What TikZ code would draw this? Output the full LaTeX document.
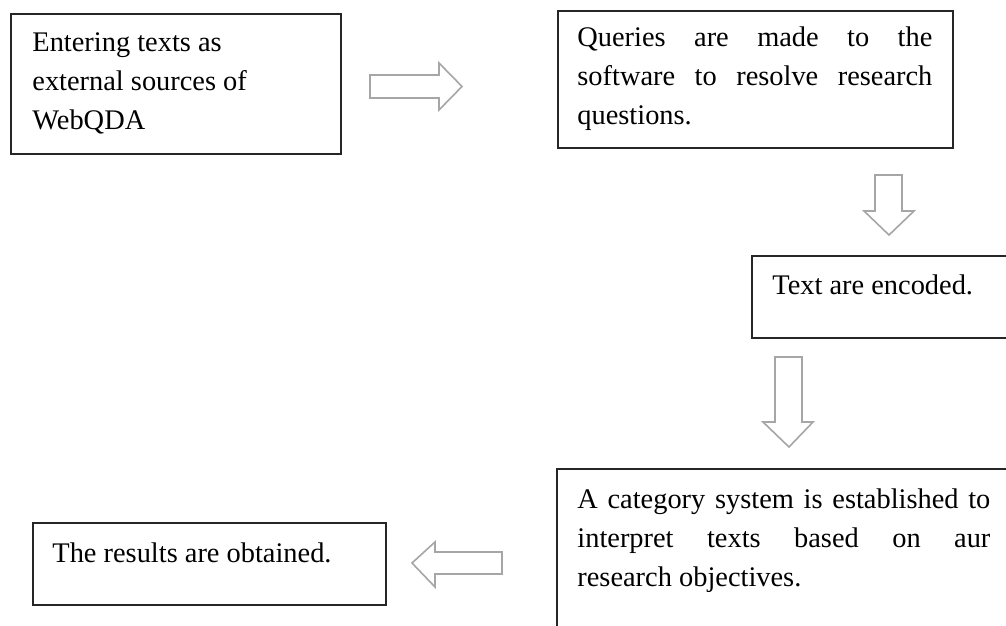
\documentclass[tikz,border=0pt]{standalone}
\usepackage{fontspec}
\setmainfont{Liberation Serif}
\begin{document}
\begin{tikzpicture}[x=0.5pt,y=-0.5pt,
    stage/.style={draw=black!85, line width=1pt, anchor=north west, inner sep=0},
    stagetext/.style={anchor=base west, inner sep=0, font=\fontsize{14.2}{19.5}\selectfont},
    flowarrow/.style={draw=black!35, line width=0.8pt, fill=white, line join=miter}]
    \useasboundingbox (0,0) rectangle (1006,626);
    \clip (0,0) rectangle (1006,626);
    % boxes
    \node [stage, minimum width=165pt, minimum height=70pt] (enter) at (10,13) {};
    \node [stage, minimum width=197.5pt, minimum height=68.5pt] (queries) at (557,10) {};
    \node [stage, minimum width=139.5pt, minimum height=41pt] (encode) at (751,255) {};
    \node [stage, minimum width=237pt, minimum height=96pt] (category) at (556,468) {};
    \node [stage, minimum width=176.5pt, minimum height=41pt] (results) at (32,522) {};
    % texts
    \node [stagetext, text width=150pt, align=flush left] (enterText) at (32,52)
      {Entering texts as\\ external sources of\\ WebQDA};
    \node [stagetext, text width=177.5pt, align=justify] (queriesText) at (577,47)
      {Queries are made to the\linebreak software to resolve research\linebreak questions.};
    \node [stagetext] (encodeText) at (772,294) {Text are encoded.};
    \node [stagetext, text width=206.5pt, align=justify] (categoryText) at (577,508)
      {A category system is established to\linebreak interpret texts based on aur\linebreak research objectives.};
    \node [stagetext] (resultsText) at (52,562) {The results are obtained.};
    % block arrows
    \draw [flowarrow] (370,75) -- (439,75) -- (439,63) -- (462,86.5) -- (439,110) -- (439,98) -- (370,98) -- cycle;
    \draw [flowarrow] (875,175) -- (902,175) -- (902,211) -- (914,211) -- (889,235) -- (864,211) -- (875,211) -- cycle;
    \draw [flowarrow] (775,357) -- (802,357) -- (802,422) -- (813,422) -- (789,447) -- (763,422) -- (775,422) -- cycle;
    \draw [flowarrow] (502,552) -- (435,552) -- (435,542) -- (412,563) -- (435,587) -- (435,574) -- (502,574) -- cycle;
  \end{tikzpicture}
\end{document}
